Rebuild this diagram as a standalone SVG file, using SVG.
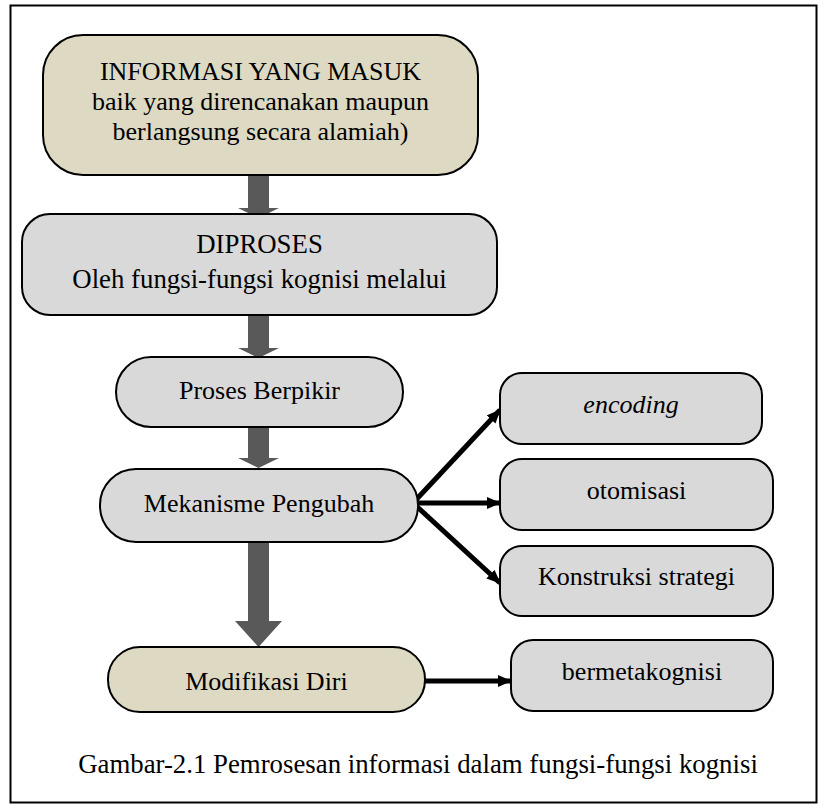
<svg xmlns="http://www.w3.org/2000/svg" width="826" height="812" viewBox="0 0 826 812">
  <defs>
    <style>
      .tan { fill: #ddd9c3; stroke: #000; stroke-width: 2; }
      .grey { fill: #d9d9d9; stroke: #000; stroke-width: 2; }
      .lbl { font-family: "Liberation Serif", "Times New Roman", serif; font-size: 26px; fill: #000; text-anchor: middle; }
      .big { font-size: 26.8px; }
      .block { fill: #595959; }
      .link { stroke: #000; stroke-width: 5; fill: none; }
    </style>
    <marker id="head" markerUnits="userSpaceOnUse" markerWidth="14" markerHeight="12" refX="13" refY="6" orient="auto">
      <path d="M0,0 L14,6 L0,12 z" fill="#000"/>
    </marker>
  </defs>

  <!-- page frame -->
  <rect x="10.5" y="5.5" width="806" height="797" fill="#fff" stroke="#000" stroke-width="2"/>

  <!-- block arrows and connectors -->
  <g id="connectors">
    <polygon class="block" points="248,175 269,175 269,208 279,208 258.5,218 238,208 248,208"/>
    <polygon class="block" points="248,315 269,315 269,348 279,348 258.5,358 238,348 248,348"/>
    <polygon class="block" points="248,427 269,427 269,458 279,458 258.5,468 238,458 248,458"/>
    <polygon class="block" points="248,542 269,542 269,621 282,621 258.5,647 235,621 248,621"/>
    <line class="link" x1="413" y1="503" x2="500" y2="410" marker-end="url(#head)"/>
    <line class="link" x1="413" y1="503" x2="500" y2="503" marker-end="url(#head)"/>
    <line class="link" x1="413" y1="503" x2="500" y2="583" marker-end="url(#head)"/>
    <line class="link" x1="425" y1="681" x2="511" y2="681" marker-end="url(#head)"/>
  </g>

  <g id="informasi">
    <rect class="tan" x="43" y="35" width="435" height="140" rx="40" ry="40"/>
    <text class="lbl" x="260.5" y="80">INFORMASI YANG MASUK</text>
    <text class="lbl" x="260.5" y="110">baik yang direncanakan maupun</text>
    <text class="lbl" x="260.5" y="140">berlangsung secara alamiah)</text>
  </g>

  <g id="diproses">
    <rect class="grey" x="22" y="214" width="475" height="101" rx="28" ry="28"/>
    <text class="lbl big" x="259.5" y="253">DIPROSES</text>
    <text class="lbl big" x="259.5" y="288">Oleh fungsi-fungsi kognisi melalui</text>
  </g>

  <g id="proses-berpikir">
    <rect class="grey" x="116" y="357" width="287" height="70" rx="35" ry="35"/>
    <text class="lbl" x="259.5" y="399">Proses Berpikir</text>
  </g>

  <g id="mekanisme-pengubah">
    <rect class="grey" x="100" y="469" width="318" height="73" rx="36" ry="36"/>
    <text class="lbl" x="259" y="512">Mekanisme Pengubah</text>
  </g>

  <g id="modifikasi-diri">
    <rect class="tan" x="108" y="647" width="317" height="65" rx="32" ry="32"/>
    <text class="lbl" x="266.5" y="690">Modifikasi Diri</text>
  </g>

  <g id="encoding">
    <rect class="grey" x="500" y="373" width="262" height="71" rx="22" ry="22"/>
    <text class="lbl" x="631" y="413" font-style="italic">encoding</text>
  </g>

  <g id="otomisasi">
    <rect class="grey" x="500" y="459" width="273" height="71" rx="22" ry="22"/>
    <text class="lbl" x="636.5" y="499">otomisasi</text>
  </g>

  <g id="konstruksi-strategi">
    <rect class="grey" x="500" y="546" width="273" height="70" rx="22" ry="22"/>
    <text class="lbl" x="636.5" y="585">Konstruksi strategi</text>
  </g>

  <g id="bermetakognisi">
    <rect class="grey" x="511" y="640" width="262" height="71" rx="22" ry="22"/>
    <text class="lbl" x="642" y="680">bermetakognisi</text>
  </g>

  <text class="lbl big" x="418" y="773">Gambar-2.1 Pemrosesan informasi dalam fungsi-fungsi kognisi</text>
</svg>
